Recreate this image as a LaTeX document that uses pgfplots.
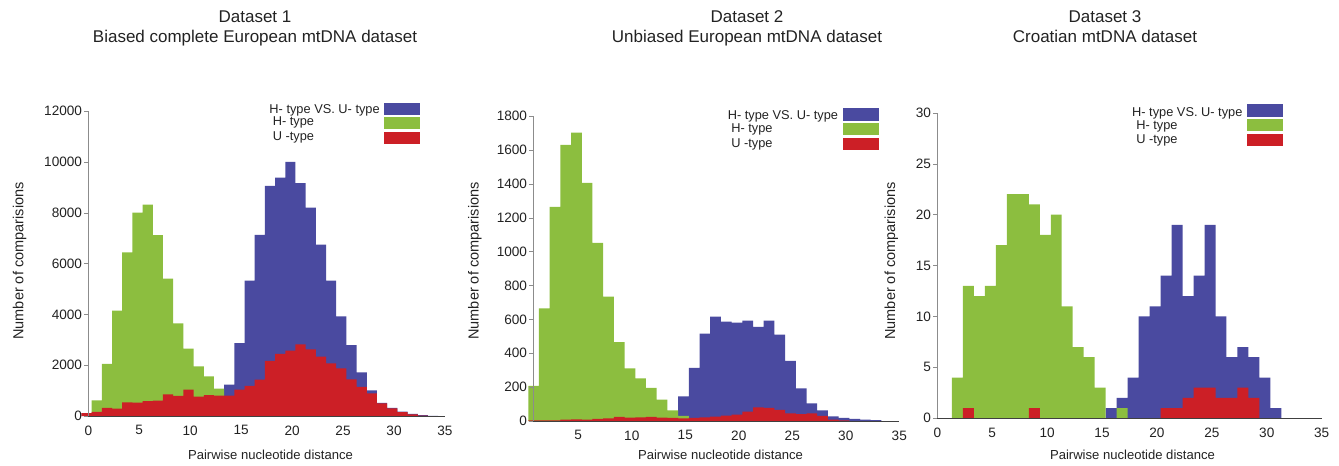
\documentclass[border=0pt]{standalone}
\usepackage{fontspec}
\setmainfont{Liberation Sans}
\usepackage{pgfplots}
\pgfplotsset{compat=1.18}
\definecolor{HUblue}{HTML}{4A4AA0}
\definecolor{Hgreen}{HTML}{8CBE3F}
\definecolor{Ured}{HTML}{CC1F26}
\definecolor{txt}{HTML}{222222}

\pgfplotsset{
  panel/.style={
    scale only axis,
    axis lines*=left,
    axis line style={-},
    x axis line style={black!75},
    y axis line style={black!45},
    clip=false,
    axis on top,
    ymin=0, xmax=35,
    tick align=outside,
    major tick length=3pt,
    major x tick style={draw=none},
    major y tick style={black!45},
    scaled y ticks=false,
    tick label style={font=\fontsize{10.2}{11}\selectfont, text=txt, inner sep=1.5pt},
    xticklabel style={yshift=-2.5pt},
    /pgf/number format/assume math mode=true,
    /pgf/number format/1000 sep={},
  },
  bars/.style={const plot mark left, draw=none, fill=#1},
}

\begin{document}
\begin{tikzpicture}
% positions below are in pixels of the 1339x465 reference (1px = 0.75pt)
\begin{scope}[x=0.75pt, y=-0.75pt]
\useasboundingbox (0,0) rectangle (1339,465);
\end{scope}

% ---------- Dataset 1 ----------
\begin{axis}[panel, at={(66.225pt,-312pt)}, anchor=south west,
  width=267.5pt, height=228.75pt,
  xmin=0, ymax=12000, xtick={0,5,...,35}, ytick={0,2000,...,12000}]
\addplot[bars=HUblue] coordinates {
 (13.33,1230) (14.33,2870) (15.33,5330) (16.33,7130) (17.33,9050) (18.33,9380)
 (19.33,10000) (20.33,9160) (21.33,8200) (22.33,6740) (23.33,5330) (24.33,3920)
 (25.33,2790) (26.33,1720) (27.33,1010) (28.33,520) (29.33,320) (30.33,170)
 (31.33,80) (32.33,30) (33.33,10) (34.33,0)} \closedcycle;
\addplot[bars=Hgreen] coordinates {
 (0.33,620) (1.33,2050) (2.33,4150) (3.33,6440) (4.33,8000) (5.33,8320)
 (6.33,7120) (7.33,5410) (8.33,3640) (9.33,2650) (10.33,1950) (11.33,1560)
 (12.33,1080) (13.33,0)} \closedcycle;
\addplot[bars=Ured] coordinates {
 (-0.67,110) (0.33,165) (1.33,320) (2.33,295) (3.33,540) (4.33,530) (5.33,590)
 (6.33,610) (7.33,850) (8.33,795) (9.33,1035) (10.33,760) (11.33,825) (12.33,805)
 (13.33,805) (14.33,1040) (15.33,1190) (16.33,1430) (17.33,2170) (18.33,2440)
 (19.33,2570) (20.33,2820) (21.33,2620) (22.33,2340) (23.33,2070) (24.33,1870)
 (25.33,1440) (26.33,1150) (27.33,890) (28.33,500) (29.33,300) (30.33,150)
 (31.33,60) (32.33,15) (33.33,0)} \closedcycle;
\end{axis}

% ---------- Dataset 2 ----------
\begin{axis}[panel, at={(399.975pt,-315.75pt)}, anchor=south west,
  width=274.5pt, height=228.75pt,
  xmin=0.8, ymax=1800, xtick={5,10,...,35}, ytick={0,200,...,1800}]
\addplot[bars=HUblue] coordinates {
 (14.33,146) (15.33,313) (16.33,515) (17.33,616) (18.33,586) (19.33,580)
 (20.33,592) (21.33,555) (22.33,592) (23.33,510) (24.33,355) (25.33,193)
 (26.33,104) (27.33,63) (28.33,28) (29.33,18) (30.33,12) (31.33,8) (32.33,5)
 (33.33,0)} \closedcycle;
\addplot[bars=Hgreen] coordinates {
 (0.33,208) (1.33,665) (2.33,1263) (3.33,1629) (4.33,1702) (5.33,1406)
 (6.33,1052) (7.33,734) (8.33,466) (9.33,310) (10.33,251) (11.33,195)
 (12.33,126) (13.33,63) (14.33,30) (15.33,0)} \closedcycle;
\addplot[bars=Ured] coordinates {
 (0.33,3) (1.33,3) (2.33,4) (3.33,8) (4.33,10) (5.33,8) (6.33,12) (7.33,15)
 (8.33,25) (9.33,20) (10.33,22) (11.33,25) (12.33,20) (13.33,18) (14.33,15)
 (15.33,18) (16.33,22) (17.33,26) (18.33,32) (19.33,38) (20.33,55) (21.33,80)
 (22.33,78) (23.33,65) (24.33,45) (25.33,40) (26.33,45) (27.33,30) (28.33,8)
 (29.33,3) (30.33,0)} \closedcycle;
\end{axis}

% ---------- Dataset 3 ----------
\begin{axis}[panel, at={(702.975pt,-313.725pt)}, anchor=south west,
  width=288.3pt, height=229.2pt,
  xmin=0, ymax=30, xtick={0,5,...,35}, ytick={0,5,...,30}]
\addplot[bars=HUblue] coordinates {
 (15.33,1) (16.33,2) (17.33,4) (18.33,10) (19.33,11) (20.33,14) (21.33,19)
 (22.33,12) (23.33,14) (24.33,19) (25.33,10) (26.33,6) (27.33,7) (28.33,6)
 (29.33,4) (30.33,1) (31.33,0)} \closedcycle;
\addplot[bars=Hgreen] coordinates {
 (1.33,4) (2.33,13) (3.33,12) (4.33,13) (5.33,17) (6.33,22) (7.33,22) (8.33,21)
 (9.33,18) (10.33,20) (11.33,11) (12.33,7) (13.33,6) (14.33,3) (15.33,0)
 (16.33,1) (17.33,0)} \closedcycle;
\addplot[bars=Ured] coordinates {
 (2.33,1) (3.33,0) (8.33,1) (9.33,0) (20.33,1) (21.33,1) (22.33,2) (23.33,3)
 (24.33,3) (25.33,2) (26.33,2) (27.33,3) (28.33,2) (29.33,0)} \closedcycle;
\end{axis}

\begin{scope}[x=0.75pt, y=-0.75pt]
% ---------- titles ----------
\tikzset{ttl/.style={font=\fontsize{12.75}{14}\selectfont, text=txt, anchor=base, inner sep=0pt}}
\node[ttl] at (255,22.5) {Dataset 1};
\node[ttl] at (255,42.5) {Biased complete European mtDNA dataset};
\node[ttl] at (747,22.5) {Dataset 2};
\node[ttl] at (747,42.5) {Unbiased European mtDNA dataset};
\node[ttl] at (1105,22.5) {Dataset 3};
\node[ttl] at (1105,42.5) {Croatian mtDNA dataset};

% ---------- axis labels ----------
\tikzset{xl/.style={font=\fontsize{9.8}{11}\selectfont, text=txt, anchor=base, inner sep=0pt},
         yl/.style={font=\fontsize{10.9}{12}\selectfont, text=txt, anchor=base, inner sep=0pt, rotate=90}}
\node[xl] at (270.5,459) {Pairwise nucleotide distance};
\node[xl] at (720.5,459) {Pairwise nucleotide distance};
\node[xl] at (1132.5,459) {Pairwise nucleotide distance};
\node[yl] at (23.5,261) {Number of comparisions};
\node[yl] at (478.5,261) {Number of comparisions};
\node[yl] at (895,261) {Number of comparisions};

% ---------- legends ----------
\tikzset{lg/.style={font=\fontsize{9.6}{11}\selectfont, text=txt, inner sep=0pt}}
\node[lg, anchor=base east] at (380,113.3) {H- type VS. U- type};
\node[lg, anchor=base west] at (272.5,125) {H- type};
\node[lg, anchor=base west] at (272.5,140) {U -type};
\fill[HUblue] (384,102.7) rectangle (420,115);
\fill[Hgreen] (384,117.3) rectangle (420,129.3);
\fill[Ured] (384,131.7) rectangle (420,144);

\node[lg, anchor=base east] at (838.3,119.3) {H- type VS. U- type};
\node[lg, anchor=base west] at (731,132.7) {H- type};
\node[lg, anchor=base west] at (731,147.3) {U -type};
\fill[HUblue] (842.7,108.3) rectangle (879,120.7);
\fill[Hgreen] (842.7,122.7) rectangle (879,135);
\fill[Ured] (842.7,137.7) rectangle (879,150);

\node[lg, anchor=base east] at (1242.7,116) {H- type VS. U- type};
\node[lg, anchor=base west] at (1136,129) {H- type};
\node[lg, anchor=base west] at (1136,143.7) {U -type};
\fill[HUblue] (1247.3,104.3) rectangle (1283.3,116.7);
\fill[Hgreen] (1247.3,119) rectangle (1283.3,131);
\fill[Ured] (1247.3,133.7) rectangle (1283.3,146);
\end{scope}
\end{tikzpicture}
\end{document}
